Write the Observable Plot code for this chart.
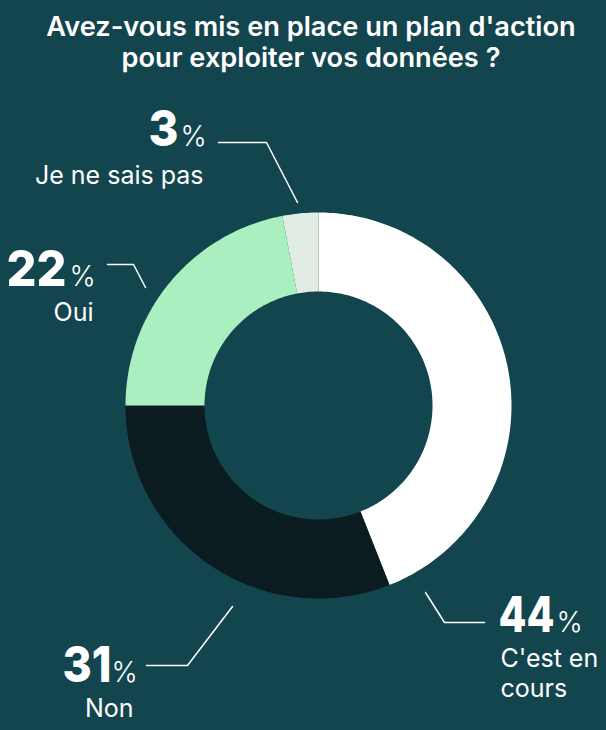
<!DOCTYPE html>
<html lang="fr"><head><meta charset="utf-8">
<script src="https://cdn.jsdelivr.net/npm/d3@7"></script>
<script src="https://cdn.jsdelivr.net/npm/@observablehq/plot@0.6"></script>
<style>
html,body{margin:0;padding:0;background:#13454f;}
#t{position:absolute;left:0;top:11px;width:622px;text-align:center;color:#fff;font:600 27.2px/31px Inter,sans-serif;white-space:nowrap;}
#c{position:absolute;left:0;top:80px;}
svg{display:block;background:transparent!important;}
</style></head><body>
<div id="t">Avez-vous mis en place un plan d'action<br>pour exploiter vos données ?</div>
<div id="c"></div>
<script>
const answers = ["C'est en cours","Non","Oui","Je ne sais pas"];
const labels = ["C'est en\ncours","Non","Oui","Je ne sais pas"];
const shares = [44,31,22,3];
const colors = ["#ffffff","#0a1c20","#a9efbf","#e0ece4"];

// layout (page pixels)
const W=606,H=650,top0=80,cx=318,cy=405,R=193,r=114;
const numEnd=[554,111,66,178], numW=[56,49,60,30], pctStart=[556,111,69,180], base=[631,681,285,145];
const subX=[500,133,93,203], subBase=[696,716,320,183];
const leaders=[[[425,592],[444,622],[484,622]],[[146,665],[187,665],[232,606]],[[107,264],[133,264],[145,287]],[[218,142],[266,142],[297,202]]];

// ring polygons derived from shares
let cum=0; const ring=[];
answers.forEach((a,i)=>{
  const a0=cum/100*2*Math.PI, a1=(cum+shares[i])/100*2*Math.PI; cum+=shares[i];
  const n=Math.max(2,Math.ceil(shares[i]*4));
  for(let k=0;k<=n;k++){const t=a0+(a1-a0)*k/n;ring.push({a,x:cx+R*Math.sin(t),y:cy-R*Math.cos(t)});}
  for(let k=n;k>=0;k--){const t=a0+(a1-a0)*k/n;ring.push({a,x:cx+r*Math.sin(t),y:cy-r*Math.cos(t)});}
});
const leadRows=leaders.flatMap((l,i)=>l.map(([x,y])=>({i,x,y})));
const rows=answers.map((a,i)=>({a,i,share:shares[i]}));
const subOpts={x:d=>subX[d.i],y:d=>subBase[d.i],text:d=>labels[d.i],lineAnchor:"bottom",lineHeight:1.17,fill:"#fff",fontSize:25,fontWeight:400,fontFamily:"Inter"};

const chart=Plot.plot({
  width:W,height:H,margin:0,
  x:{domain:[0,W],range:[0,W],axis:null},
  y:{domain:[top0,top0+H],range:[0,H],axis:null},
  color:{domain:answers,range:colors},
  style:{background:"transparent",fontFamily:"Inter"},
  marks:[
    Plot.line(ring,{x:"x",y:"y",z:"a",fill:"a",stroke:null,curve:"linear-closed"}),
    Plot.line(leadRows,{x:"x",y:"y",z:"i",stroke:"#fff",strokeWidth:1.5}),
    Plot.text(rows,{x:d=>numEnd[d.i],y:d=>base[d.i],text:d=>String(d.share),textAnchor:"end",lineAnchor:"bottom",fill:"#fff",fontSize:50,fontWeight:800,fontFamily:"Inter",
      render(index,scales,values,dims,ctx,next){
        const g=next(index,scales,values,dims,ctx);
        g.querySelectorAll("text").forEach((t,k)=>{t.setAttribute("lengthAdjust","spacingAndGlyphs");t.setAttribute("textLength",numW[index[k]]);});
        return g;
      }}),
    Plot.text(rows,{x:d=>pctStart[d.i],y:d=>base[d.i],text:()=>"%",textAnchor:"start",lineAnchor:"bottom",fill:"#fff",fontSize:28,fontWeight:300,fontFamily:"Inter"}),
    Plot.text(rows.filter(d=>d.i==0),{...subOpts,textAnchor:"start"}),
    Plot.text(rows.filter(d=>d.i!=0),{...subOpts,textAnchor:"end"})
  ]
});
document.getElementById("c").append(chart);
</script></body></html>
